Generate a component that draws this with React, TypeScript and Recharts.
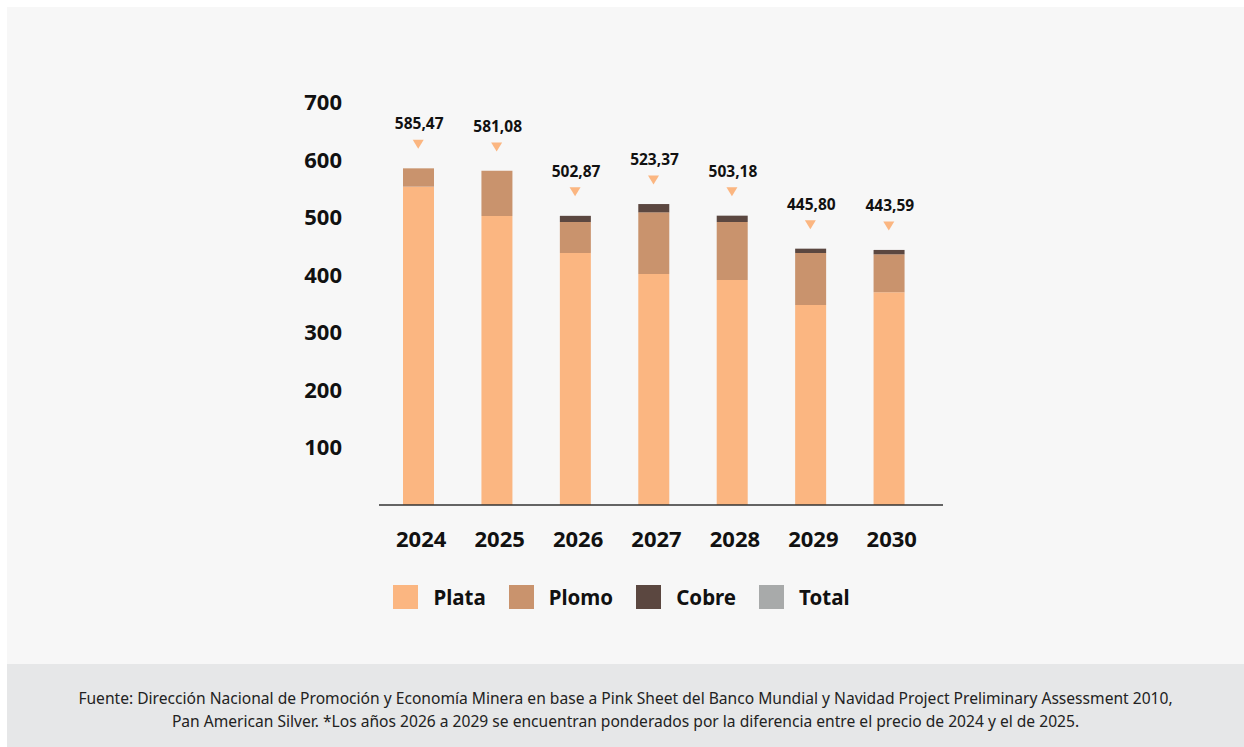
import React from "react";
import {
  ComposedChart,
  Bar,
  Line,
  XAxis,
  YAxis,
  Legend,
  LabelList,
} from "recharts";

const years = ["2024", "2025", "2026", "2027", "2028", "2029", "2030"];
const plata = [553.6, 502.6, 438.3, 401.7, 391.3, 347.8, 369.9];
const plomo = [31.9, 78.5, 53.9, 107.3, 100.9, 90.5, 66.1];
const cobre = [0, 0, 10.7, 14.4, 11.0, 7.5, 7.6];
const totals = [585.47, 581.08, 502.87, 523.37, 503.18, 445.8, 443.59];
const yTicks = [100, 200, 300, 400, 500, 600, 700];

const seriesNames = ["Plata", "Plomo", "Cobre", "Total"];
const seriesColors = ["#FBB681", "#C9936D", "#5B4740", "#A8AAAA"];

const footerLines = [
  "Fuente: Dirección Nacional de Promoción y Economía Minera en base a Pink Sheet del Banco Mundial y Navidad Project Preliminary Assessment 2010,",
  "Pan American Silver. *Los años 2026 a 2029 se encuentran ponderados por la diferencia entre el precio de 2024 y el de 2025.",
];

const data = years.map((y, i) => ({
  year: y,
  plata: plata[i],
  plomo: plomo[i],
  cobre: cobre[i],
  total: totals[i],
}));

const FONT = "'Noto Sans', 'Open Sans', sans-serif";

const TriangleDot = (props: any) => {
  const { cx, cy } = props;
  if (cx == null || cy == null) return null;
  const c = cy - 24;
  return (
    <polygon
      points={`${cx - 5.5},${c - 4.5} ${cx + 5.5},${c - 4.5} ${cx},${c + 4.5}`}
      fill="#FBB681"
    />
  );
};

const TotalLabel = (props: any) => {
  const { x, y, value } = props;
  return (
    <text
      x={x + 1}
      y={y - 39}
      textAnchor="middle"
      fontFamily={FONT}
      fontWeight={700}
      fontSize={15.5}
      fill="#111"
    >
      {Number(value).toFixed(2).replace(".", ",")}
    </text>
  );
};

const LegendContent = () => (
  <div
    style={{
      display: "flex",
      justifyContent: "center",
      alignItems: "center",
      height: 24,
      fontFamily: FONT,
      fontWeight: 700,
      fontSize: 20.5,
      color: "#111",
    }}
  >
    {seriesNames.map((n, i) => (
      <div
        key={n}
        style={{ display: "flex", alignItems: "center", marginRight: i < 3 ? 23 : 0 }}
      >
        <div style={{ width: 25, height: 24, background: seriesColors[i], marginRight: 15 }} />
        <span>{n}</span>
      </div>
    ))}
  </div>
);

export default function App() {
  return (
    <div
      style={{
        position: "fixed",
        left: 7,
        top: 7,
        width: 1237,
        height: 740,
        overflow: "hidden",
        fontFamily: FONT,
      }}
    >
      <div style={{ width: 1237, height: 657, background: "#F7F7F7" }}>
        <ComposedChart
          width={1237}
          height={657}
          data={data}
          margin={{ top: 95.5, right: 301, bottom: 95, left: 312 }}
        >
          <XAxis
            dataKey="year"
            axisLine={{ stroke: "#333", strokeWidth: 1.5 }}
            tickLine={false}
            tickSize={0}
            tickMargin={26}
            height={40}
            padding={{ left: 0, right: 15 }}
            tick={{ fill: "#111", fontSize: 22, fontWeight: 700, fontFamily: FONT, dx: 3 }}
          />
          <YAxis
            domain={[0, 700]}
            ticks={yTicks}
            axisLine={false}
            tickLine={false}
            tickSize={0}
            tickMargin={37}
            width={60}
            interval={0}
            tick={{ fill: "#111", fontSize: 22, fontWeight: 700, fontFamily: FONT }}
          />
          <Legend
            verticalAlign="bottom"
            height={24}
            wrapperStyle={{ top: 578, left: 0, width: 1229, height: 24 }}
            content={<LegendContent />}
          />
          <Bar dataKey="plata" stackId="a" fill={seriesColors[0]} barSize={31} isAnimationActive={false} />
          <Bar dataKey="plomo" stackId="a" fill={seriesColors[1]} barSize={31} isAnimationActive={false} />
          <Bar dataKey="cobre" stackId="a" fill={seriesColors[2]} barSize={31} isAnimationActive={false} />
          <Line
            dataKey="total"
            stroke="none"
            dot={<TriangleDot />}
            activeDot={false}
            isAnimationActive={false}
          >
            <LabelList dataKey="total" content={<TotalLabel />} />
          </Line>
        </ComposedChart>
      </div>
      <div
        style={{
          width: 1237,
          height: 83,
          background: "#E6E7E8",
          display: "flex",
          flexDirection: "column",
          justifyContent: "center",
          alignItems: "center",
          fontFamily: "'Noto Sans', sans-serif",
          fontSize: 15.6,
          lineHeight: "23px",
          color: "#222",
          paddingTop: 8,
          boxSizing: "border-box",
        }}
      >
        {footerLines.map((l) => (
          <div key={l} style={{ whiteSpace: "nowrap" }}>{l}</div>
        ))}
      </div>
    </div>
  );
}
